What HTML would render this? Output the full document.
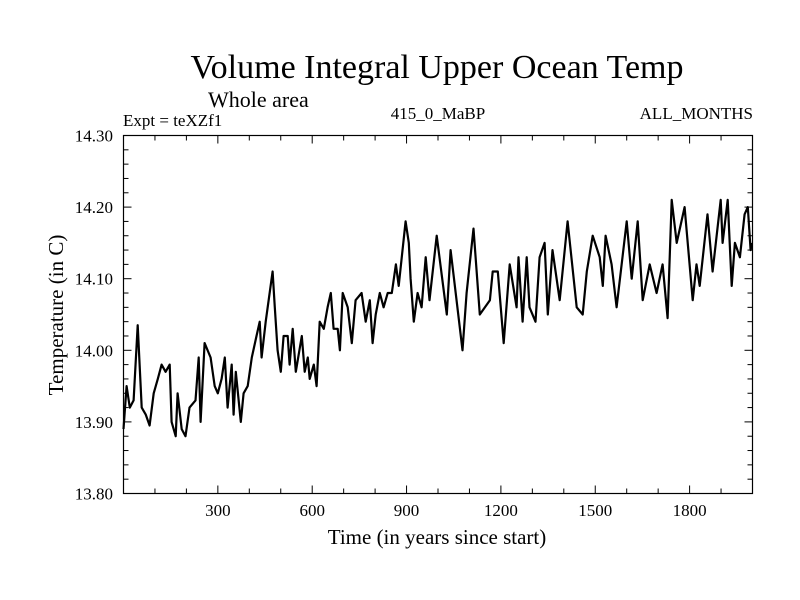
<!DOCTYPE html>
<html><head><meta charset="utf-8"><style>
html,body{margin:0;padding:0;background:#fff}
svg{display:block;font-family:"Liberation Serif",serif}
</style></head><body>
<svg id="chart" width="800" height="600" viewBox="0 0 800 600" xmlns="http://www.w3.org/2000/svg">
<text x="437" y="78" font-size="34" text-anchor="middle">Volume Integral Upper Ocean Temp</text>
<text x="208" y="107" font-size="22">Whole area</text>
<text x="123" y="126" font-size="17">Expt = teXZf1</text>
<text x="438" y="119" font-size="17" text-anchor="middle">415_0_MaBP</text>
<text x="753" y="119" font-size="17" text-anchor="end">ALL_MONTHS</text>
<text transform="translate(63,315) rotate(-90)" font-size="21" text-anchor="middle">Temperature (in C)</text>
<text x="437" y="544" font-size="21" text-anchor="middle">Time (in years since start)</text>
<g id="axes"></g>
<path id="series" fill="none" stroke="#000" stroke-width="2.2" stroke-linejoin="round"/>
<rect x="123.5" y="135.5" width="629" height="358" fill="none" stroke="#000" stroke-width="1.2"/>
</svg>
<script>
const years=[0,10,20,32,45,58,71,83,96,109,121,134,147,153,166,172,185,197,210,229,239,245,258,277,290,300,312,322,331,344,350,357,373,382,395,408,423,433,439,452,474,481,490,500,509,522,528,538,548,567,576,586,592,605,614,624,637,649,659,668,681,688,697,713,726,738,757,770,783,792,802,815,827,840,853,866,875,897,907,913,923,935,948,961,973,996,1028,1040,1078,1091,1113,1133,1165,1174,1190,1209,1228,1250,1256,1269,1282,1291,1310,1323,1339,1349,1364,1387,1412,1441,1460,1473,1492,1514,1524,1533,1552,1568,1600,1616,1635,1651,1673,1695,1714,1730,1743,1759,1784,1810,1822,1832,1857,1873,1899,1905,1921,1934,1944,1960,1975,1985,1994,1998];
const temps=[13.89,13.95,13.92,13.93,14.035,13.92,13.91,13.895,13.94,13.96,13.98,13.97,13.98,13.90,13.88,13.94,13.89,13.88,13.92,13.93,13.99,13.90,14.01,13.99,13.95,13.94,13.96,13.99,13.92,13.98,13.91,13.97,13.90,13.94,13.95,13.99,14.02,14.04,13.99,14.04,14.11,14.06,14.00,13.97,14.02,14.02,13.98,14.03,13.97,14.02,13.97,13.99,13.96,13.98,13.95,14.04,14.03,14.06,14.08,14.03,14.03,14.00,14.08,14.06,14.01,14.07,14.08,14.04,14.07,14.01,14.05,14.08,14.06,14.08,14.08,14.12,14.09,14.18,14.15,14.10,14.04,14.08,14.06,14.13,14.07,14.16,14.05,14.14,14.00,14.08,14.17,14.05,14.07,14.11,14.11,14.01,14.12,14.06,14.13,14.04,14.13,14.06,14.04,14.13,14.15,14.05,14.14,14.07,14.18,14.06,14.05,14.11,14.16,14.13,14.09,14.16,14.12,14.06,14.18,14.10,14.18,14.07,14.12,14.08,14.12,14.045,14.21,14.15,14.20,14.07,14.12,14.09,14.19,14.11,14.21,14.15,14.21,14.09,14.15,14.13,14.19,14.20,14.14,14.15];
const xTickLabels=[300,600,900,1200,1500,1800];
const yTickLabels=["13.80","13.90","14.00","14.10","14.20","14.30"];
const X0=123.5,X1=752.5,Y0=493.5,Y1=135.5;
const xMin=0,xMax=2000,yMin=13.8,yMax=14.3;
function sx(v){return X0+(v-xMin)/(xMax-xMin)*(X1-X0);}
function sy(v){return Y0-(v-yMin)/(yMax-yMin)*(Y0-Y1);}
const NS="http://www.w3.org/2000/svg";
const g=document.getElementById('axes');
function line(x1,y1,x2,y2,name){const l=document.createElementNS(NS,'line');l.setAttribute('x1',x1);l.setAttribute('y1',y1);l.setAttribute('x2',x2);l.setAttribute('y2',y2);l.setAttribute('stroke','#000');l.setAttribute('stroke-width','1');


g.appendChild(l);}
function txt(x,y,s,anchor,name){const t=document.createElementNS(NS,'text');t.setAttribute('x',x);t.setAttribute('y',y);t.setAttribute('font-size','17');t.setAttribute('text-anchor',anchor);t.textContent=s;


g.appendChild(t);}
for(let v=100;v<xMax;v+=100){const major=v%300===0;const x=sx(v);const len=major?8:5;
line(x,Y0,x,Y0-len,'x-tick');line(x,Y1,x,Y1+len,'x-tick-top');}
xTickLabels.forEach(v=>txt(sx(v),516,String(v),'middle','x-tick-label'));
for(let i=0;i<=25;i++){const v=yMin+i*0.02;const y=sy(v);const major=i%5===0;const len=major?8:5;
line(X0,y,X0+len,y,'y-tick');line(X1,y,X1-len,y,'y-tick-right');}
yTickLabels.forEach(s=>txt(113,sy(parseFloat(s))+6,s,'end','y-tick-label'));
let d='';years.forEach((yr,i)=>{d+=(i?'L':'M')+sx(yr).toFixed(1)+','+sy(temps[i]).toFixed(1);});
document.getElementById('series').setAttribute('d',d);
</script>
</body></html>
